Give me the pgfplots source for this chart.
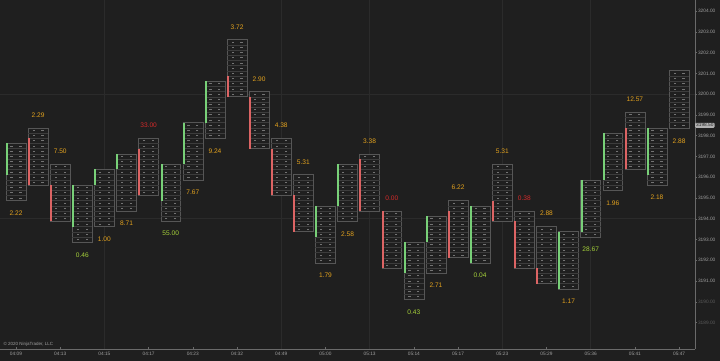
\documentclass[border=0pt]{standalone}
\usepackage{fontspec}
\setmainfont{Liberation Sans}
\usepackage{pgfplots}
\usepackage{pgfplotstable}
\pgfplotsset{compat=1.18}
\definecolor{bgc}{HTML}{1F1F1F}
\definecolor{boxc}{HTML}{565656}
\definecolor{rowc}{HTML}{3C3C3C}
\definecolor{cellc}{HTML}{747474}
\definecolor{gridc}{HTML}{2B2B2B}
\definecolor{barg}{HTML}{78D078}
\definecolor{barr}{HTML}{DC6464}
\definecolor{barn}{HTML}{1F1F1F}
\definecolor{labo}{HTML}{E3A21E}
\definecolor{labg}{HTML}{A6D23A}
\definecolor{labr}{HTML}{D42A2A}
\definecolor{axc}{HTML}{6A6A6A}
\definecolor{tickc}{HTML}{A0A0A0}
\definecolor{tickd}{HTML}{5A5A5A}
\newcommand\labfont{\fontsize{6.6}{7}\selectfont}
\newcommand\tickfont{\fontsize{4.8}{6}\selectfont}

\pgfplotstableread{
top bot ca cb bc lab ly lc
3197.625 3194.875 3196.125 3197.625 g 2.22 3194.27 o
3198.375 3195.625 3197.875 3195.625 r 2.29 3198.99 o
3196.625 3193.875 3195.625 3193.875 r 7.50 3197.26 o
3195.625 3192.875 3193.625 3195.625 g 0.46 3192.25 g
3196.375 3193.625 3195.625 3196.375 g 1.00 3193.02 o
3197.125 3194.375 3196.375 3197.125 g 8.71 3193.79 o
3197.875 3195.125 3197.375 3195.125 r 33.00 3198.51 r
3196.625 3193.875 3194.875 3196.625 g 55.00 3193.31 g
3198.625 3195.875 3196.625 3198.625 g 7.67 3195.29 o
3200.625 3197.875 3198.625 3200.625 g 9.24 3197.26 o
3202.625 3199.875 3200.875 3199.875 r 3.72 3203.23 o
3200.125 3197.375 3199.875 3197.375 r 2.90 3200.73 o
3197.875 3195.125 3197.375 3195.125 r 4.38 3198.51 o
3196.125 3193.375 3195.125 3193.375 r 5.31 3196.73 o
3194.625 3191.875 3193.125 3194.625 g 1.79 3191.29 o
3196.625 3193.875 3194.625 3196.625 g 2.58 3193.26 o
3197.125 3194.375 3196.875 3194.375 r 3.38 3197.74 o
3194.375 3191.625 3194.375 3191.625 r 0.00 3195.00 r
3192.875 3190.125 3191.375 3192.875 g 0.43 3189.51 g
3194.125 3191.375 3192.875 3194.125 g 2.71 3190.81 o
3194.875 3192.125 3194.375 3192.125 r 6.22 3195.53 o
3194.625 3191.875 3191.875 3194.625 g 0.04 3191.29 g
3196.625 3193.875 3194.875 3193.875 r 5.31 3197.26 o
3194.375 3191.625 3193.875 3191.625 r 0.38 3195.00 r
3193.625 3190.875 3191.625 3190.875 r 2.88 3194.27 o
3193.375 3190.625 3190.625 3193.375 g 1.17 3190.04 o
3195.875 3193.125 3193.375 3195.875 g 28.67 3192.54 g
3198.125 3195.375 3195.875 3198.125 g 1.96 3194.76 o
3199.125 3196.375 3198.375 3196.375 r 12.57 3199.76 o
3198.375 3195.625 3196.125 3198.375 g 2.18 3195.04 o
3201.125 3198.375 3198.375 3198.375 n 2.88 3197.74 o
}\fpdata

\newcommand\fpbar[1]{%
  \pgfmathtruncatemacro\ri{#1}%
  \pgfplotstablegetelem{\ri}{top}\of\fpdata\edef\T{\pgfplotsretval}%
  \pgfplotstablegetelem{\ri}{bot}\of\fpdata\edef\B{\pgfplotsretval}%
  \pgfplotstablegetelem{\ri}{ca}\of\fpdata\edef\CA{\pgfplotsretval}%
  \pgfplotstablegetelem{\ri}{cb}\of\fpdata\edef\CB{\pgfplotsretval}%
  \pgfplotstablegetelem{\ri}{bc}\of\fpdata\edef\BC{\pgfplotsretval}%
  \pgfplotstablegetelem{\ri}{lab}\of\fpdata\edef\LAB{\pgfplotsretval}%
  \pgfplotstablegetelem{\ri}{ly}\of\fpdata\edef\LY{\pgfplotsretval}%
  \pgfplotstablegetelem{\ri}{lc}\of\fpdata\edef\LC{\pgfplotsretval}%
  \pgfmathsetmacro\xl{\ri-0.45}%
  \pgfmathsetmacro\xr{\ri+0.45}%
  \pgfmathsetmacro\xa{\ri-0.2}%
  \pgfmathsetmacro\xb{\ri+0.2}%
  \pgfmathsetmacro\xc{\ri-0.415}%
  \pgfmathtruncatemacro\nr{round((\T-\B)*4)}%
  \gdef\rowl{}\gdef\cel{}%
  \foreach \k in {1,...,\nr}{%
     \pgfmathsetmacro\yk{\B+0.25*\k}%
     \pgfmathsetmacro\yc{\B+0.25*\k-0.125}%
     \xdef\cel{\cel (\xa,\yc) (\xb,\yc)}%
     \ifnum\k<\nr \xdef\rowl{\rowl (\xl,\yk) (\xr,\yk) (\xr,nan)}\fi
  }%
  \edef\cmd{%
    \noexpand\addplot[draw=boxc, fill=bgc, line width=0.5pt] coordinates {(\xl,\B) (\xr,\B) (\xr,\T) (\xl,\T)} -- cycle;
    \noexpand\addplot[draw=rowc, line width=0.35pt] coordinates {\rowl};
    \noexpand\addplot[only marks, mark=-, mark size=1.1pt, mark options={draw=cellc, line width=0.8pt}] coordinates {\cel};
    \noexpand\addplot[draw=bar\BC, line width=2pt] coordinates {(\xc,\CA) (\xc,\CB)};
    \noexpand\node[text=lab\LC, font=\noexpand\labfont] at (axis cs:\ri,\LY) {\LAB};
  }\cmd
}

\begin{document}
\begin{tikzpicture}
\fill[bgc] (0,0) rectangle (720pt,361pt);
\useasboundingbox (0,0) rectangle (720pt,361pt);
\begin{axis}[
  at={(0pt,12pt)}, anchor=south west,
  scale only axis, width=695pt, height=349pt,
  xmin=-0.724, xmax=30.72, ymin=3187.73, ymax=3204.53,
  axis x line*=bottom, axis y line*=right,
  axis line style={draw=axc, line width=0.6pt},
  xtick={0,2,...,30},
  xticklabels={04:09,04:13,04:15,04:17,04:23,04:32,04:49,05:00,05:13,05:14,05:17,05:23,05:29,05:36,05:41,05:47},
  ytick={3191,3192,...,3204},
  extra y ticks={3189,3190},
  extra y tick style={tick label style={color=tickd}},
  /pgf/number format/fixed,
  /pgf/number format/fixed zerofill,
  /pgf/number format/precision=2,
  /pgf/number format/1000 sep={},
  /pgf/number format/assume math mode=true,
  tick label style={font=\tickfont, color=tickc},
  yticklabel style={inner xsep=0.8pt},
  tick style={draw=axc, line width=0.5pt},
  major tick length=2pt,
  xtick align=inside, ytick align=outside,
  unbounded coords=jump,
  clip=false,
]
\addplot[draw=gridc, line width=0.6pt] coordinates {(4,3187.73) (4,3204.53) (4,nan) (12,3187.73) (12,3204.53) (12,nan) (16,3187.73) (16,3204.53) (16,nan) (22,3187.73) (22,3204.53) (22,nan) (26,3187.73) (26,3204.53) (26,nan) (-0.724,3200) (30.72,3200) (30.72,nan) (-0.724,3194) (30.72,3194)};
\pgfplotsforeachungrouped \i in {0,...,30}{\fpbar{\i}}
\node[fill=white!70!black, text=black!85, rounded corners=1pt, inner xsep=1pt, inner ysep=0.8pt, font=\tickfont, anchor=west] at (axis cs:30.72,3198.5) {3198.50};
\end{axis}
\node[anchor=west, font=\fontsize{4.5}{5}\selectfont, text=tickc] at (0pt,17pt) {© 2020 NinjaTrader, LLC};
\end{tikzpicture}
\end{document}
